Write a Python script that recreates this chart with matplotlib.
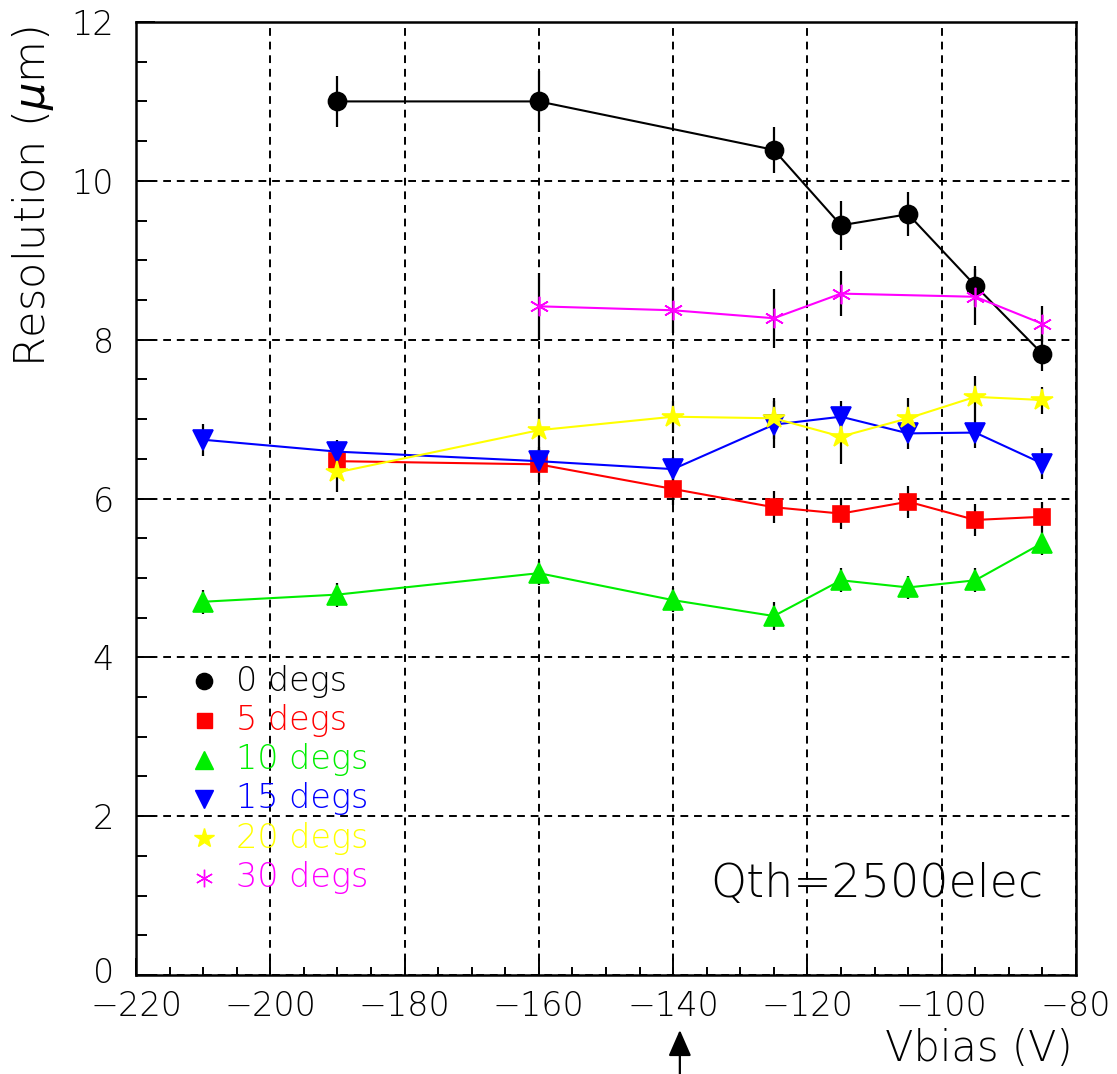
import matplotlib
matplotlib.use("Agg")
import matplotlib.pyplot as plt
import matplotlib.transforms as mtransforms
from matplotlib.ticker import MultipleLocator

plt.rcParams['font.family'] = ['DejaVu Sans']
plt.rcParams['font.weight'] = 'light'
plt.rcParams['mathtext.fontset'] = 'dejavusans'

# ---------------- data ----------------
labels = ["0 degs", "5 degs", "10 degs", "15 degs", "20 degs", "30 degs"]
colors = ["#000000", "#ff0000", "#00ee00", "#0000ff", "#ffff00", "#ff00ff"]
markers = ["o", "s", "^", "v", "*", (6, 2, 0)]

x0 = [-190, -160, -125, -115, -105, -95, -85]
y0 = [11.0, 11.0, 10.39, 9.44, 9.58, 8.68, 7.82]
e0 = [0.32, 0.38, 0.29, 0.31, 0.28, 0.25, 0.22]

x5 = [-190, -160, -140, -125, -115, -105, -95, -85]
y5 = [6.47, 6.43, 6.12, 5.89, 5.81, 5.96, 5.73, 5.77]
e5 = [0.2, 0.22, 0.2, 0.2, 0.2, 0.2, 0.2, 0.18]

x10 = [-210, -190, -160, -140, -125, -115, -105, -95, -85]
y10 = [4.70, 4.79, 5.06, 4.72, 4.52, 4.97, 4.88, 4.97, 5.44]
e10 = [0.15, 0.15, 0.15, 0.15, 0.18, 0.15, 0.15, 0.15, 0.15]

x15 = [-210, -190, -160, -140, -125, -115, -105, -95, -85]
y15 = [6.74, 6.59, 6.47, 6.37, 6.93, 7.03, 6.82, 6.83, 6.44]
e15 = [0.2, 0.15, 0.15, 0.15, 0.3, 0.2, 0.2, 0.2, 0.2]

x20 = [-190, -160, -140, -125, -115, -105, -95, -85]
y20 = [6.33, 6.86, 7.03, 7.01, 6.78, 7.01, 7.28, 7.24]
e20 = [0.25, 0.28, 0.2, 0.26, 0.34, 0.25, 0.26, 0.17]

x30 = [-160, -140, -125, -115, -95, -85]
y30 = [8.42, 8.37, 8.27, 8.58, 8.54, 8.20]
e30 = [0.42, 0.28, 0.37, 0.28, 0.35, 0.23]

series = [(x0, y0, e0), (x5, y5, e5), (x10, y10, e10),
          (x15, y15, e15), (x20, y20, e20), (x30, y30, e30)]
msizes = [13, 12, 14, 14, 16, 14]

xticks = [-220, -200, -180, -160, -140, -120, -100, -80]
yticks = [0, 2, 4, 6, 8, 10, 12]

# ---------------- figure ----------------
fig = plt.figure(figsize=(11.17, 10.74), dpi=100)
ax = fig.add_axes([136/1117, 1 - 975/1074, 940/1117, 953/1074])

ax.set_xlim(-220, -80)
ax.set_ylim(0, 12)
ax.set_xticks(xticks)
ax.set_yticks(yticks)
ax.xaxis.set_minor_locator(MultipleLocator(5))
ax.yaxis.set_minor_locator(MultipleLocator(0.5))
ax.set_xticklabels([f"\u2212{abs(v)}" if v < 0 else str(v) for v in xticks])
ax.tick_params(axis='both', which='both', direction='in', top=False, right=False,
               labelsize=24, width=1.4, color='black')
ax.tick_params(axis='x', which='major', length=12, pad=11)
ax.tick_params(axis='x', which='minor', length=6)
ax.tick_params(axis='y', which='major', length=14, pad=16)
ax.tick_params(axis='y', which='minor', length=8)
for sp in ax.spines.values():
    sp.set_linewidth(1.8)

ax.grid(True, which='major', color='black', linestyle=(0, (4, 3)), linewidth=1.4)
ax.set_axisbelow(True)

for (xs, ys, es), c, m, ms in zip(series, colors, markers, msizes):
    ax.errorbar(xs, ys, yerr=es, fmt='none', ecolor='black', elinewidth=1.6, capsize=0, zorder=3)
    ax.plot(xs, ys, color=c, linewidth=1.5, marker=m, markersize=ms,
            markerfacecolor=c, markeredgecolor=c, markeredgewidth=1.2, zorder=4)

# lift the "0" y label a little so it does not collide with "-220"
fig.canvas.draw()
ylab0 = ax.get_yticklabels()[0]
ylab0.set_transform(ylab0.get_transform() +
                    mtransforms.ScaledTranslation(0, 5 / 100, fig.dpi_scale_trans))

# legend (manual, ROOT-like)
ly0 = (975 - 681) / 953
dy = 39.3 / 953
for i, (lab, c, m, ms) in enumerate(zip(labels, colors, markers, msizes)):
    yy = ly0 - i * dy
    ax.plot([(204 - 136) / 940], [yy], transform=ax.transAxes, linestyle='none',
            marker=m, markersize=ms * 0.9, color=c, markeredgecolor=c, clip_on=False, zorder=5)
    ax.text((236 - 136) / 940, yy, lab, transform=ax.transAxes, color=c,
            fontsize=24, va='center', ha='left', zorder=5)

ax.text((877 - 136) / 940, (975 - 884) / 953, "Qth=2500elec", transform=ax.transAxes,
        fontsize=33, ha='center', va='center', color='black')

# axis titles
fig.text(1073 / 1117, 1 - 1048 / 1074, "Vbias (V)", fontsize=30, ha='right', va='center')
fig.text(33 / 1117, 1 - 197 / 1074, r"Resolution ($\mu$m)", fontsize=31, rotation=90,
         ha='center', va='center')

# arrow at -140
ax.annotate("", xy=(-139, (975 - 1030) / 953), xytext=(-139, (975 - 1074) / 953),
            xycoords=('data', 'axes fraction'), textcoords=('data', 'axes fraction'),
            arrowprops=dict(arrowstyle='-|>,head_length=0.8,head_width=0.35', color='black',
                            lw=1.6, mutation_scale=20, shrinkA=0, shrinkB=0),
            annotation_clip=False)

fig.savefig("out.png", dpi=100)
